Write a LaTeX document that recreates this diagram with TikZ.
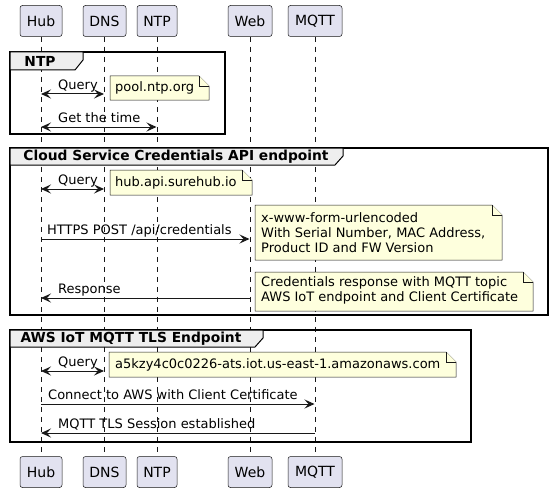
\documentclass[tikz,border=0pt]{standalone}
\usepackage{fontspec}
\setmainfont{DejaVu Sans}
\usetikzlibrary{arrows.meta}
\definecolor{partfill}{HTML}{E2E2F0}
\definecolor{notefill}{HTML}{FEFFDD}
\definecolor{ln}{HTML}{181818}
\definecolor{grpfill}{HTML}{EEEEEE}
\begin{document}
\begin{tikzpicture}[x=1pt,y=-1pt,
  part/.style={draw=ln, fill=partfill, rounded corners=2.5pt, minimum height=31pt, inner sep=0pt, line width=0.5pt, font=\fontsize{14}{16}\selectfont},
  lifeline/.style={draw=ln, dash pattern=on 5pt off 5pt, line width=0.5pt},
  msg/.style={draw=ln, line width=1pt, -{Stealth[length=10pt,width=9pt,inset=4pt]}},
  bimsg/.style={draw=ln, line width=1pt, {Stealth[length=10pt,width=9pt,inset=4pt]}-{Stealth[length=10pt,width=9pt,inset=4pt]}},
  lbl/.style={anchor=base west, inner sep=0pt, font=\fontsize{13}{15}\selectfont},
  notebox/.style={draw=ln, fill=notefill, line width=0.5pt},
  notetxt/.style={anchor=west, inner sep=0pt, align=left, font=\fontsize{13}{15}\selectfont},
  grp/.style={draw=black, line width=1.5pt},
  tab/.style={draw=black, fill=grpfill, line width=1pt},
  tabtxt/.style={inner sep=0pt, font=\bfseries\fontsize{13.8}{15}\selectfont}
]
\useasboundingbox (0,0) rectangle (553,492);
% participants
\node[part, minimum width=42pt] (hubT) at (41,21) {Hub};
\node[part, minimum width=43pt] (dnsT) at (104.5,21) {DNS};
\node[part, minimum width=40pt] (ntpT) at (157,21) {NTP};
\node[part, minimum width=44pt] (webT) at (250,21) {Web};
\node[part, minimum width=54pt] (mqttT) at (315,21) {MQTT};
\node[part, minimum width=42pt] (hubB) at (41,472) {Hub};
\node[part, minimum width=43pt] (dnsB) at (104.5,472) {DNS};
\node[part, minimum width=40pt] (ntpB) at (157,472) {NTP};
\node[part, minimum width=44pt] (webB) at (250,472) {Web};
\node[part, minimum width=54pt] (mqttB) at (315,472) {MQTT};
\foreach \p in {hub,dns,ntp,web,mqtt}{\draw[lifeline] (\p T.south) -- (\p B.north);}

% group 1
\draw[grp] (10,52) rectangle (225,134);
\draw[tab] (10,52) -- (83,52) -- (83,60) -- (75,70) -- (10,70) -- cycle;
\node[tabtxt] (g1) at (40,61) {NTP};
% group 2
\draw[grp] (10,148) rectangle (548,315);
\draw[tab] (10,148) -- (343,148) -- (343,156) -- (335,165) -- (10,165) -- cycle;
\node[tabtxt] (g2) at (176,157) {Cloud Service Credentials API endpoint};
% group 3
\draw[grp] (10,330) rectangle (471,442);
\draw[tab] (10,330) -- (263,330) -- (263,338) -- (255,347) -- (10,347) -- cycle;
\node[tabtxt] (g3) at (131,339) {AWS IoT MQTT TLS Endpoint};

% notes
\newcommand{\notepath}[4]{%
  \draw[notebox] (#1,#2) -- ({#3-10},#2) -- (#3,{#2+10}) -- (#3,#4) -- (#1,#4) -- cycle;
  \draw[notebox] ({#3-10},#2) -- ({#3-10},{#2+10}) -- (#3,{#2+10});}
\notepath{110}{76}{209}{100}
\node[notetxt] (n1) at (115,88) {pool.ntp.org};
\notepath{110}{170}{252}{195}
\node[notetxt] (n2) at (115,182.5) {hub.api.surehub.io};
\notepath{255}{205}{502}{260}
\node[notetxt] (n3) at (261,232.5) {x-www-form-urlencoded\\With Serial Number, MAC Address,\\Product ID and FW Version};
\notepath{255}{272}{533}{311}
\node[notetxt] (n4) at (261,290) {Credentials response with MQTT topic\\AWS IoT endpoint and Client Certificate};
\notepath{109}{352}{456}{377}
\node[notetxt] (n5) at (115,364.5) {a5kzy4c0c0226-ats.iot.us-east-1.amazonaws.com};

% message coordinates
\coordinate (h1) at (41,94);  \coordinate (d1) at (104,94);
\coordinate (h2) at (41,127); \coordinate (t2) at (156.5,127);
\coordinate (h3) at (41,189); \coordinate (d3) at (104,189);
\coordinate (h4) at (41,239); \coordinate (w4) at (249.5,239);
\coordinate (h5) at (41,298); \coordinate (w5) at (249.5,298);
\coordinate (h6) at (41,371); \coordinate (d6) at (104,371);
\coordinate (h7) at (41,404); \coordinate (m7) at (314.5,404);
\coordinate (h8) at (41,433); \coordinate (m8) at (314.5,433);

\draw[bimsg] (h1) -- (d1);
\node[lbl] (l1) at (58,89) {Query};
\draw[bimsg] (h2) -- (t2);
\node[lbl] (l2) at (58,122) {Get the time};
\draw[bimsg] (h3) -- (d3);
\node[lbl] (l3) at (58,184) {Query};
\draw[msg] (h4) -- (w4);
\node[lbl] (l4) at (47,234) {HTTPS POST /api/credentials};
\draw[msg] (w5) -- (h5);
\node[lbl] (l5) at (58,293) {Response};
\draw[bimsg] (h6) -- (d6);
\node[lbl] (l6) at (58,366) {Query};
\draw[msg] (h7) -- (m7);
\node[lbl] (l7) at (48,399) {Connect to AWS with Client Certificate};
\draw[msg] (m8) -- (h8);
\node[lbl] (l8) at (58,428) {MQTT TLS Session established};
\end{tikzpicture}
\end{document}
